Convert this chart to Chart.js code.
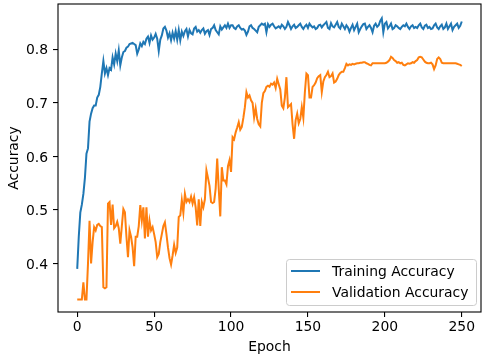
<!DOCTYPE html>
<html>
<head>
<meta charset="utf-8">
<script src="https://cdn.jsdelivr.net/npm/chart.js@4/dist/chart.umd.min.js"></script>
<style>
  html, body { margin: 0; padding: 0; background: #fff; }
  #wrap { width: 487px; height: 356px; }
</style>
</head>
<body>
<div id="wrap"><canvas id="accChart" width="487" height="356"></canvas></div>
<script>
// epochs 0..250
var epochs = [];
for (var e = 0; e <= 250; e++) epochs.push(e);

var trainAcc = [
  0.39, 0.45, 0.495, 0.51, 0.53, 0.56, 0.605, 0.615, 0.665, 0.68,
  0.69, 0.695, 0.695, 0.71, 0.715, 0.73, 0.755, 0.778, 0.755, 0.765,
  0.752, 0.765, 0.762, 0.785, 0.772, 0.792, 0.778, 0.798, 0.77, 0.785,
  0.795, 0.797, 0.803, 0.805, 0.81, 0.811, 0.812, 0.81, 0.808, 0.792,
  0.8, 0.811, 0.806, 0.814, 0.81, 0.82, 0.824, 0.812, 0.826, 0.818,
  0.822, 0.829, 0.82, 0.797, 0.818, 0.826, 0.839, 0.842, 0.835, 0.822,
  0.83, 0.817, 0.831, 0.82, 0.834, 0.818, 0.836, 0.817, 0.833, 0.825,
  0.834, 0.838, 0.824, 0.836, 0.83, 0.828, 0.839, 0.842, 0.833, 0.836,
  0.831, 0.836, 0.839, 0.829, 0.834, 0.836, 0.827, 0.838, 0.84, 0.845,
  0.836, 0.832, 0.828, 0.843, 0.837, 0.841, 0.845, 0.84, 0.848, 0.84,
  0.845, 0.845, 0.84, 0.838, 0.843, 0.845, 0.84, 0.837, 0.838, 0.835,
  0.827, 0.833, 0.843, 0.845, 0.84, 0.838, 0.835, 0.832, 0.842, 0.845,
  0.848, 0.846, 0.848, 0.832, 0.847, 0.842, 0.846, 0.848, 0.843, 0.839,
  0.841, 0.843, 0.84, 0.846, 0.843, 0.838, 0.842, 0.851, 0.845, 0.838,
  0.843, 0.846, 0.84, 0.842, 0.845, 0.848, 0.842, 0.838, 0.843, 0.846,
  0.84, 0.848, 0.844, 0.841, 0.843, 0.838, 0.84, 0.845, 0.846, 0.841,
  0.845, 0.848, 0.851, 0.84, 0.838, 0.849, 0.843, 0.841, 0.846, 0.851,
  0.842, 0.839, 0.848, 0.843, 0.838, 0.845, 0.841, 0.833, 0.84, 0.846,
  0.836, 0.842, 0.848, 0.832, 0.838, 0.843, 0.847, 0.848, 0.838, 0.842,
  0.845, 0.84, 0.832, 0.844, 0.848, 0.842, 0.845, 0.853, 0.858, 0.832,
  0.848, 0.851, 0.839, 0.843, 0.848, 0.838, 0.84, 0.845, 0.843, 0.84,
  0.838, 0.842, 0.845, 0.843, 0.848, 0.842, 0.838, 0.843, 0.845, 0.84,
  0.842, 0.84, 0.845, 0.848, 0.841, 0.838, 0.844, 0.846, 0.84, 0.842,
  0.838, 0.839, 0.845, 0.848, 0.841, 0.838, 0.843, 0.846, 0.838, 0.841,
  0.848, 0.838, 0.843, 0.848, 0.836, 0.842, 0.845, 0.848, 0.84, 0.844,
  0.852
];

var valAcc = [
  0.333, 0.333, 0.333, 0.333, 0.365, 0.333, 0.333, 0.4, 0.48, 0.4,
  0.44, 0.468, 0.462, 0.472, 0.474, 0.47, 0.468, 0.356, 0.354, 0.356,
  0.512, 0.515, 0.472, 0.51, 0.466, 0.47, 0.478, 0.466, 0.437, 0.47,
  0.502, 0.496, 0.45, 0.412, 0.462, 0.45, 0.43, 0.395, 0.45, 0.45,
  0.47, 0.509, 0.48, 0.505, 0.447, 0.505, 0.45, 0.48, 0.462, 0.468,
  0.455, 0.44, 0.412, 0.418, 0.44, 0.455, 0.47, 0.477, 0.455, 0.43,
  0.41, 0.398, 0.415, 0.435, 0.42, 0.43, 0.487, 0.49, 0.518, 0.495,
  0.53, 0.515, 0.52, 0.515, 0.525, 0.512, 0.524, 0.505, 0.471, 0.52,
  0.47, 0.515, 0.505, 0.52, 0.574, 0.56, 0.545, 0.515, 0.513, 0.515,
  0.54, 0.596, 0.54, 0.488, 0.58, 0.555, 0.555, 0.548, 0.582, 0.593,
  0.571, 0.636, 0.632, 0.645, 0.654, 0.664, 0.65, 0.655, 0.672, 0.692,
  0.72, 0.71, 0.714, 0.705, 0.7, 0.673, 0.69, 0.67, 0.66, 0.656,
  0.7, 0.718, 0.722, 0.73, 0.732, 0.73, 0.736, 0.734, 0.738, 0.728,
  0.745, 0.735, 0.725, 0.695, 0.69, 0.71, 0.748, 0.692, 0.695, 0.698,
  0.66, 0.633, 0.668, 0.68, 0.662, 0.67, 0.692, 0.672, 0.72, 0.755,
  0.752, 0.71, 0.71, 0.73, 0.733, 0.738, 0.746, 0.75, 0.752, 0.72,
  0.74, 0.748, 0.752, 0.758, 0.748, 0.75, 0.755, 0.738, 0.74, 0.745,
  0.752, 0.756, 0.758, 0.758, 0.765, 0.773, 0.77, 0.772, 0.771, 0.773,
  0.772, 0.773, 0.774, 0.774, 0.775, 0.775, 0.776, 0.776, 0.774, 0.773,
  0.771, 0.77, 0.774, 0.774, 0.774, 0.774, 0.774, 0.774, 0.774, 0.774,
  0.774, 0.775, 0.777, 0.78, 0.786, 0.784, 0.78, 0.778, 0.775, 0.776,
  0.774, 0.775, 0.771, 0.77, 0.772, 0.774, 0.773, 0.774, 0.776, 0.775,
  0.778, 0.78, 0.785, 0.786, 0.785, 0.781, 0.777, 0.775, 0.774, 0.774,
  0.775, 0.772, 0.763, 0.77, 0.782, 0.785, 0.782, 0.775, 0.774, 0.774,
  0.774, 0.774, 0.774, 0.774, 0.774, 0.774, 0.774, 0.773, 0.772, 0.771,
  0.769
];

var xTicks = [0, 50, 100, 150, 200, 250];
var yTicks = [0.4, 0.5, 0.6, 0.7, 0.8];

var FONT = 'DejaVu Sans';
var FS = 13.9;

// axes frame + legend drawn like matplotlib
var framePlugin = {
  id: 'frame',
  afterDraw: function (chart) {
    var ctx = chart.ctx, a = chart.chartArea;
    ctx.save();
    ctx.strokeStyle = '#000';
    ctx.lineWidth = 1.1;
    ctx.strokeRect(a.left, a.top, a.right - a.left, a.bottom - a.top);

    // legend box, lower right
    var bw = 190, bh = 46;
    var bx = a.right - 5 - bw, by = a.bottom - 7 - bh;
    ctx.fillStyle = 'rgba(255,255,255,0.8)';
    ctx.strokeStyle = '#cccccc';
    ctx.lineWidth = 1;
    ctx.beginPath();
    ctx.roundRect(bx + 0.5, by + 0.5, bw, bh, 3);
    ctx.fill();
    ctx.stroke();
    ctx.font = FS + 'px "' + FONT + '"';
    ctx.textBaseline = 'middle';
    chart.data.datasets.forEach(function (ds, i) {
      var ly = by + 12 + i * 21;
      ctx.strokeStyle = ds.borderColor;
      ctx.lineWidth = 2;
      ctx.beginPath();
      ctx.moveTo(bx + 5, ly);
      ctx.lineTo(bx + 34, ly);
      ctx.stroke();
      ctx.fillStyle = '#000';
      ctx.fillText(ds.label, bx + 46, ly + 1);
    });
    ctx.restore();
  }
};

var ctx = document.getElementById('accChart').getContext('2d');
var accChart = new Chart(ctx, {
  type: 'line',
  data: {
    datasets: [
      {
        label: 'Training Accuracy',
        data: epochs.map(function (x, i) { return { x: x, y: trainAcc[i] }; }),
        borderColor: '#1f77b4',
        borderWidth: 2,
        pointRadius: 0,
        fill: false,
        tension: 0
      },
      {
        label: 'Validation Accuracy',
        data: epochs.map(function (x, i) { return { x: x, y: valAcc[i] }; }),
        borderColor: '#ff7f0e',
        borderWidth: 2,
        pointRadius: 0,
        fill: false,
        tension: 0
      }
    ]
  },
  options: {
    responsive: false,
    animation: false,
    layout: { padding: { top: 4, right: 6, left: 0, bottom: 0 } },
    plugins: { legend: { display: false }, tooltip: { enabled: false } },
    scales: {
      x: {
        type: 'linear',
        min: -12.5,
        max: 262.5,
        afterBuildTicks: function (s) { s.ticks = xTicks.map(function (v) { return { value: v }; }); },
        afterFit: function (s) { s.height = 44; s.paddingLeft = 0; s.paddingRight = 0; },
        grid: { drawOnChartArea: false, drawTicks: true, tickLength: 5, color: '#000', lineWidth: 1.1 },
        border: { display: false },
        ticks: { color: '#000', font: { family: FONT, size: FS }, padding: 2, maxRotation: 0 },
        title: { display: true, text: 'Epoch', color: '#000', font: { family: FONT, size: FS }, padding: { top: 0, bottom: 0 } }
      },
      y: {
        min: 0.3095,
        max: 0.8847,
        afterBuildTicks: function (s) { s.ticks = yTicks.map(function (v) { return { value: v }; }); },
        afterFit: function (s) { s.width = 58; s.paddingTop = 0; s.paddingBottom = 0; },
        grid: { drawOnChartArea: false, drawTicks: true, tickLength: 5, color: '#000', lineWidth: 1.1 },
        border: { display: false },
        ticks: {
          color: '#000', font: { family: FONT, size: FS }, padding: 5, labelOffset: 1.5,
          callback: function (v) { return v.toFixed(1); }
        },
        title: { display: true, text: 'Accuracy', color: '#000', font: { family: FONT, size: FS }, padding: { top: 6, bottom: 0 } }
      }
    }
  },
  plugins: [framePlugin]
});
</script>
</body>
</html>
